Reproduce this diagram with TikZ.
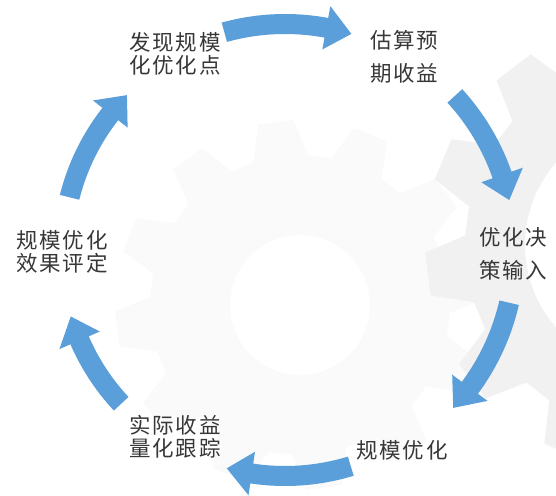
\documentclass[tikz,border=0pt]{standalone}
\usepackage{fontspec}
\newfontfamily\cjk[LetterSpace=8]{Noto Sans CJK SC}
\definecolor{arrowblue}{RGB}{90,158,218}
\definecolor{txtgray}{RGB}{55,55,55}
\definecolor{gearA}{RGB}{241,241,241}
\definecolor{gearB}{RGB}{250,250,250}
\newcommand{\arcarrow}[4]{% radius, tail angle, tip angle, name
  \pgfmathsetmacro{\hb}{#3+6.5}
  \fill[arrowblue] (#2:#1+10) arc[start angle=#2, end angle=\hb, radius=#1+10]
    -- (\hb:#1+22) -- (#3:#1) -- (\hb:#1-22) -- (\hb:#1-10)
    arc[start angle=\hb, end angle=#2, radius=#1-10] -- cycle;
  \coordinate (#4) at (#3:#1);
}
\newcommand{\gearshape}[5]{% center, body r, tooth r, hole r, color
  \fill[#5, even odd rule, shift={#1}] (-3:#2)
    \foreach \k in {0,30,...,330}{ -- (\k-3:#2) -- (\k+2:#3) -- (\k+13:#3) -- (\k+18:#2) -- (\k+27:#2)}
    -- cycle (0:#4) arc[start angle=0, end angle=360, radius=#4];
}
\tikzset{
  lbl/.style={font=\cjk\fontsize{21.5}{22.5}\selectfont, text=txtgray, align=center, inner sep=0pt},
  lblwide/.style={lbl, font=\cjk\fontsize{21.5}{32.5}\selectfont}
}
\begin{document}
\begin{tikzpicture}[x=1pt,y=1pt]
\useasboundingbox (0,0) rectangle (556,495);
\fill[white] (0,0) rectangle (556,495);
\begin{scope}
\clip (0,0) rectangle (556,495);
\gearshape{(300,190)}{150}{185}{70}{gearB}
\gearshape{(650,250)}{185}{225}{125}{gearA}
\end{scope}
\begin{scope}[shift={(285,244)}]
\arcarrow{227}{105.5}{73}{t1}
\arcarrow{230}{42.4}{12.8}{t2}
\arcarrow{230}{-13}{-43}{t3}
\arcarrow{225}{-73}{-105}{t4}
\arcarrow{224}{-137}{-163}{t5}
\arcarrow{222}{166}{135.4}{t6}
\end{scope}
\node[lbl] (n1) at (175,441) {发现规模\\化优化点};
\node[lblwide] (n2) at (404,438) {估算预\\期收益};
\node[lblwide] (n3) at (513,241) {优化决\\策输入};
\node[lbl] (n4) at (402,45) {规模优化};
\node[lbl] (n5) at (175,58) {实际收益\\量化跟踪};
\node[lbl] (n6) at (62,243) {规模优化\\效果评定};
\end{tikzpicture}
\end{document}
